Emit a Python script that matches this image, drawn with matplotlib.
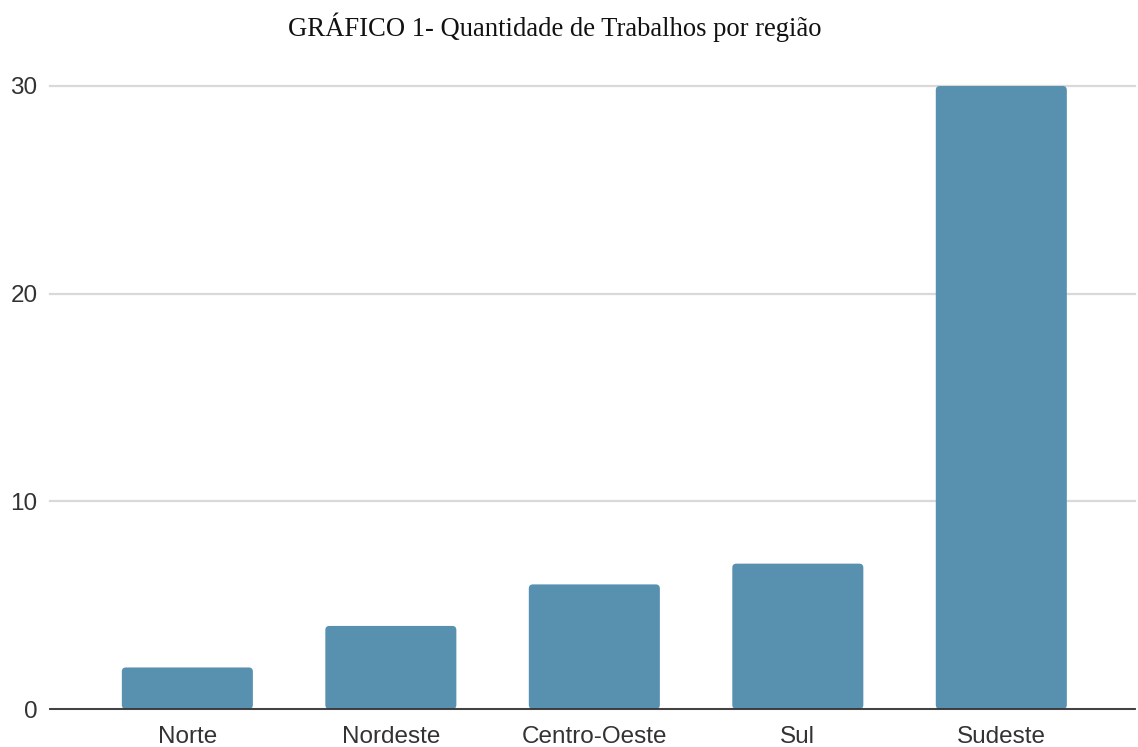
import matplotlib
matplotlib.use("Agg")
import matplotlib.pyplot as plt
from matplotlib.patches import FancyBboxPatch

regioes = ["Norte", "Nordeste", "Centro-Oeste", "Sul", "Sudeste"]
trabalhos = [2, 4, 6, 7, 30]
y_ticks = [0, 10, 20, 30]

BAR_COLOR = "#5890b0"
GRID_COLOR = "#d9d9d9"
TEXT_COLOR = "#333333"

fig = plt.figure(figsize=(11.38, 7.47), dpi=100)
ax = fig.add_axes([50 / 1138, 38 / 747, 1085 / 1138, (709 - 86) / 747])

x = range(len(regioes))
bars = ax.bar(x, trabalhos, width=0.644, color=BAR_COLOR, zorder=3)

# soften the top corners a little, like the original
for b in bars:
    b.set_visible(False)
    r = FancyBboxPatch((b.get_x(), b.get_y()), b.get_width(), b.get_height(),
                       boxstyle="round,pad=0,rounding_size=0.02",
                       mutation_aspect=10, facecolor=BAR_COLOR,
                       edgecolor="none", zorder=3)
    ax.add_patch(r)

ax.set_xlim(-0.675, 4.657)
ax.set_ylim(0, 30)
ax.set_yticks(y_ticks)
ax.set_xticks(list(x))
ax.set_xticklabels(regioes)

for s in ["top", "right", "left"]:
    ax.spines[s].set_visible(False)
ax.spines["bottom"].set_color(TEXT_COLOR)
ax.spines["bottom"].set_linewidth(1.3)
ax.spines["bottom"].set_zorder(4)

ax.grid(axis="y", color=GRID_COLOR, linewidth=1.6, zorder=0)
for gl in ax.get_ygridlines():
    gl.set_clip_on(False)
ax.tick_params(length=0, labelsize=17.5, labelcolor=TEXT_COLOR)
ax.tick_params(axis="y", pad=9)
ax.tick_params(axis="x", pad=12)
for lab in ax.get_xticklabels() + ax.get_yticklabels():
    lab.set_fontfamily("Liberation Sans")

fig.text(555 / 1138, 1 - 27 / 747, "GRÁFICO 1- Quantidade de Trabalhos por região",
         ha="center", va="center", fontsize=19.2, family="Liberation Serif",
         color="#111111")

fig.savefig("out.png", dpi=100)
